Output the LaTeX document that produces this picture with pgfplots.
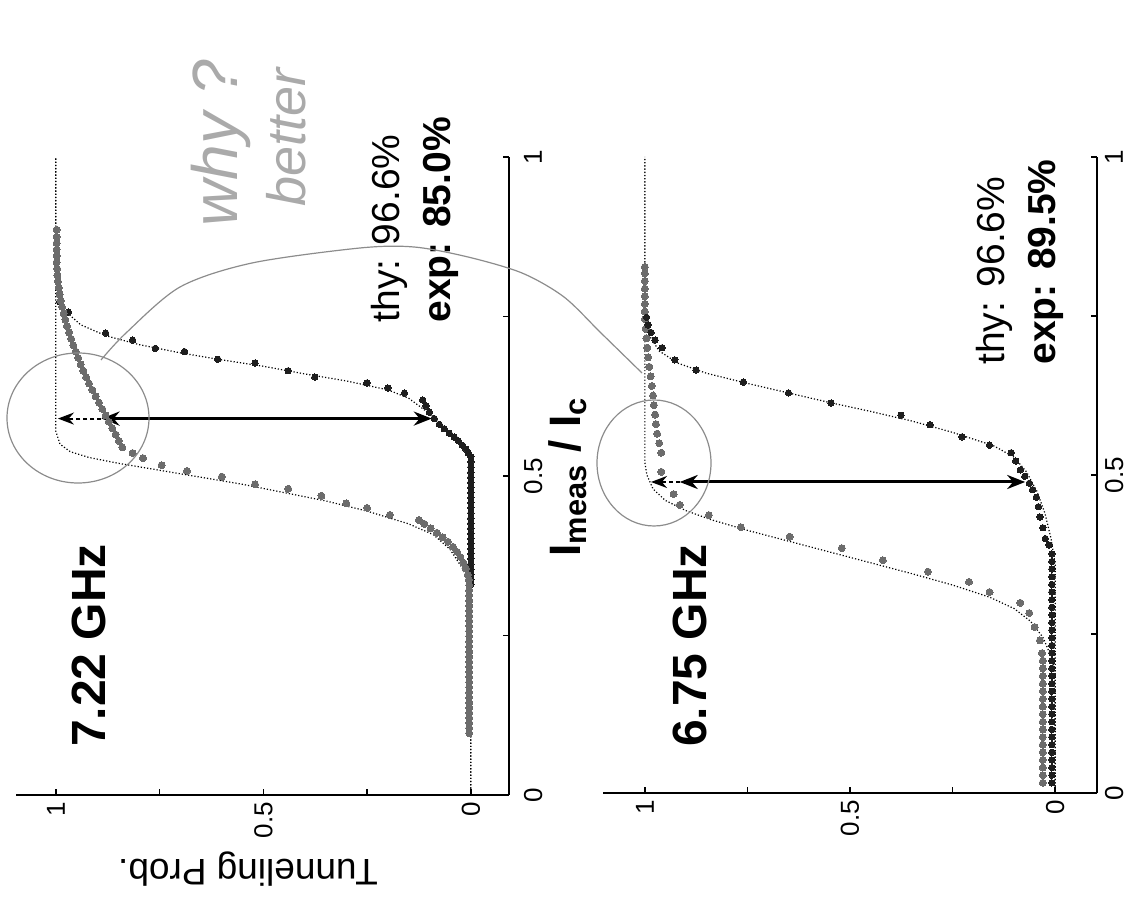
\documentclass[border=0pt]{standalone}
\usepackage{fontspec}
\setmainfont{Liberation Sans}
\usepackage{pgfplots}
\pgfplotsset{compat=1.18}
\usetikzlibrary{arrows.meta}

\definecolor{grdot}{RGB}{108,108,108}
\definecolor{bkdot}{RGB}{30,30,30}
\definecolor{pen}{RGB}{140,140,140}
\definecolor{penlight}{RGB}{170,170,170}

\pgfplotsset{
  tunnel/.style={
    scale only axis,
    x dir=reverse,
    ymin=0, ymax=1,
    axis x line*=bottom,
    axis y line*=right,
    axis line style={line width=1pt, black},
    tick align=inside,
    major tick length=3pt,
    tick style={line width=0.8pt, black},
    xtick={0,0.25,0.5,0.75,1},
    xticklabels={0,,0.5,,1},
    ytick={0,0.25,0.5,0.75,1},
    yticklabels={0,,0.5,,1},
    xticklabel style={rotate=90, anchor=east, font=\fontsize{13}{15}\selectfont},
    yticklabel style={rotate=90, anchor=north, font=\fontsize{13}{15}\selectfont},
    /pgf/number format/assume math mode=true,
    clip=false,
  },
  thy/.style={densely dotted, line width=0.6pt, black},
  gdata/.style={only marks, color=grdot, mark=*, mark size=1.75pt,
    mark options={draw=grdot, fill=grdot, line width=0pt}},
  bdata/.style={only marks, color=bkdot, mark=*, mark size=1.6pt,
    mark options={draw=bkdot, fill=bkdot, line width=0pt}},
}
\tikzset{
  val/.style={rotate=90, anchor=base west, inner sep=0pt, font=\fontsize{19.5}{22}\selectfont},
  freq/.style={rotate=90, anchor=base west, inner sep=0pt, font=\fontsize{24}{28}\selectfont\bfseries},
  meas/.style={line width=1.5pt, {Stealth[length=9pt,width=7pt]}-{Stealth[length=9pt,width=7pt]}},
  ideal/.style={line width=1pt, dash pattern=on 2pt off 1.5pt, -{Stealth[length=8pt,width=6pt]}},
  note/.style={rotate=90, anchor=base west, inner sep=0pt, text=penlight},
}

% 7.22 GHz, lower-current state (grey)
\pgfplotstableread{
p I
0.004 0.097
0.004 0.105
0.004 0.113
0.004 0.121
0.004 0.129
0.004 0.137
0.004 0.145
0.004 0.153
0.004 0.161
0.004 0.169
0.004 0.177
0.004 0.185
0.004 0.193
0.004 0.201
0.004 0.209
0.004 0.217
0.004 0.225
0.004 0.233
0.004 0.241
0.004 0.249
0.004 0.257
0.004 0.265
0.004 0.273
0.004 0.281
0.004 0.289
0.004 0.297
0.004 0.305
0.004 0.313
0.004 0.321
0.004 0.329
0.005 0.337
0.007 0.345
0.012 0.355
0.018 0.364
0.025 0.373
0.033 0.381
0.043 0.389
0.055 0.397
0.068 0.404
0.082 0.411
0.097 0.418
0.112 0.425
0.125 0.431
0.195 0.439
0.25 0.450
0.30 0.457
0.36 0.469
0.44 0.480
0.52 0.487
0.60 0.499
0.684 0.508
0.745 0.517
0.79 0.528
0.815 0.536
0.84 0.545
0.848 0.555
0.856 0.565
0.864 0.575
0.872 0.585
0.880 0.595
0.888 0.605
0.896 0.615
0.904 0.625
0.912 0.635
0.920 0.645
0.927 0.655
0.934 0.665
0.940 0.675
0.946 0.685
0.952 0.695
0.958 0.705
0.963 0.715
0.968 0.725
0.973 0.735
0.977 0.745
0.981 0.755
0.985 0.765
0.988 0.775
0.991 0.785
0.993 0.795
0.995 0.805
0.996 0.815
0.997 0.825
0.998 0.835
0.998 0.845
0.998 0.855
0.998 0.865
0.998 0.875
0.998 0.886
}\gA

% 7.22 GHz, higher-current state (black)
\pgfplotstableread{
p I
0.0 0.330
0.0 0.338
0.0 0.346
0.0 0.354
0.0 0.362
0.0 0.370
0.0 0.378
0.0 0.386
0.0 0.394
0.0 0.402
0.0 0.410
0.0 0.418
0.0 0.426
0.0 0.434
0.0 0.442
0.0 0.450
0.0 0.458
0.0 0.466
0.0 0.474
0.0 0.482
0.0 0.490
0.0 0.498
0.0 0.506
0.0 0.514
0.0 0.522
0.0 0.530
0.006 0.536
0.012 0.542
0.020 0.548
0.030 0.555
0.040 0.561
0.052 0.567
0.064 0.574
0.076 0.581
0.088 0.590
0.100 0.600
0.108 0.610
0.116 0.619
0.16 0.630
0.20 0.638
0.25 0.646
0.376 0.655
0.44 0.665
0.52 0.677
0.61 0.683
0.69 0.695
0.76 0.700
0.815 0.713
0.88 0.724
0.97 0.757
0.99 0.773
}\gB

% 7.22 GHz, theory
\pgfplotstableread{
p I
0 0
0 0.30
0.005 0.33
0.02 0.355
0.05 0.385
0.09 0.408
0.15 0.425
0.25 0.445
0.35 0.461
0.45 0.474
0.55 0.487
0.65 0.498
0.75 0.509
0.85 0.520
0.92 0.529
0.965 0.538
0.99 0.550
1 0.570
1 1
}\gtA
\pgfplotstableread{
p I
0 0
0 0.52
0.01 0.54
0.03 0.555
0.06 0.575
0.10 0.598
0.15 0.622
0.20 0.635
0.30 0.649
0.40 0.660
0.50 0.672
0.60 0.682
0.70 0.693
0.80 0.706
0.88 0.720
0.94 0.737
0.975 0.757
0.993 0.780
1 0.810
1 1
}\gtB

% 6.75 GHz, lower-current state (grey)
\pgfplotstableread{
p I
0.03 0.016
0.03 0.028
0.03 0.040
0.03 0.052
0.03 0.064
0.03 0.076
0.03 0.088
0.03 0.100
0.03 0.112
0.03 0.124
0.03 0.136
0.03 0.148
0.03 0.160
0.03 0.172
0.03 0.184
0.03 0.196
0.03 0.208
0.032 0.220
0.037 0.240
0.05 0.261
0.063 0.283
0.085 0.299
0.16 0.316
0.21 0.332
0.31 0.348
0.42 0.366
0.52 0.385
0.647 0.403
0.766 0.418
0.844 0.437
0.915 0.453
0.93 0.470
0.96 0.505
0.96 0.535
0.965 0.550
0.970 0.565
0.973 0.580
0.975 0.595
0.978 0.610
0.980 0.625
0.983 0.640
0.986 0.655
0.989 0.670
0.992 0.685
0.994 0.700
0.996 0.715
0.998 0.730
1.0 0.745
1.0 0.757
1.0 0.769
1.0 0.781
1.0 0.793
1.0 0.805
1.0 0.817
1.0 0.827
}\hA

% 6.75 GHz, higher-current state (black)
\pgfplotstableread{
p I
0.008 0.016
0.008 0.028
0.008 0.040
0.008 0.052
0.008 0.064
0.008 0.076
0.008 0.088
0.008 0.100
0.008 0.112
0.008 0.124
0.008 0.136
0.008 0.148
0.008 0.160
0.008 0.172
0.008 0.184
0.008 0.196
0.008 0.208
0.008 0.220
0.008 0.232
0.008 0.244
0.008 0.256
0.008 0.268
0.008 0.280
0.008 0.292
0.008 0.304
0.008 0.316
0.008 0.328
0.008 0.340
0.008 0.352
0.008 0.364
0.008 0.376
0.015 0.390
0.024 0.400
0.030 0.417
0.037 0.434
0.041 0.450
0.046 0.465
0.055 0.477
0.063 0.487
0.074 0.498
0.085 0.508
0.096 0.522
0.107 0.535
0.16 0.547
0.227 0.560
0.305 0.579
0.376 0.594
0.546 0.613
0.65 0.629
0.76 0.646
0.875 0.665
0.927 0.681
0.958 0.700
0.975 0.712
0.985 0.724
0.992 0.736
0.996 0.748
}\hB

% 6.75 GHz, theory
\pgfplotstableread{
p I
0 0
0 0.19
0.01 0.215
0.03 0.245
0.06 0.270
0.10 0.290
0.16 0.308
0.25 0.327
0.35 0.345
0.45 0.362
0.55 0.379
0.65 0.396
0.75 0.413
0.84 0.430
0.90 0.444
0.95 0.460
0.98 0.478
0.995 0.500
1 0.520
1 1
}\htA
\pgfplotstableread{
p I
0 0
0 0.36
0.01 0.40
0.025 0.44
0.045 0.475
0.07 0.505
0.10 0.528
0.15 0.546
0.25 0.567
0.35 0.585
0.45 0.600
0.55 0.614
0.65 0.629
0.75 0.644
0.85 0.660
0.92 0.676
0.965 0.695
0.99 0.720
1 0.750
1 1
}\htB

\begin{document}
\begin{tikzpicture}
\useasboundingbox (0,0) rectangle (565pt,452.5pt);

% ---- 7.22 GHz ----
\begin{axis}[tunnel, yticklabel shift=4pt, at={(131.25pt,214.5pt)}, anchor=center,
  width=246.5pt, height=319pt, xmin=-0.092, xmax=1.096]
  \addplot[thy] table[x=p,y=I] {\gtA};
  \addplot[thy] table[x=p,y=I] {\gtB};
  \addplot[bdata] table[x=p,y=I] {\gB};
  \addplot[gdata] table[x=p,y=I] {\gA};
  \draw[meas] (axis cs:0.094,0.59) -- (axis cs:0.89,0.59);
  \draw[ideal] (axis cs:0.89,0.59) -- (axis cs:0.995,0.59);
  \node[freq] at (axis cs:0.88,0.075) {7.22 GHz};
  \node[val] at (axis cs:0.173,0.74) {thy: 96.6\%};
  \node[val] at (axis cs:0.048,0.74) {\bfseries exp: 85.0\%};
\end{axis}

% ---- 6.75 GHz ----
\begin{axis}[tunnel, yticklabel shift=0.5pt, at={(425pt,215pt)}, anchor=center,
  width=247pt, height=318pt, xmin=-0.102, xmax=1.102]
  \addplot[thy] table[x=p,y=I] {\htA};
  \addplot[thy] table[x=p,y=I] {\htB};
  \addplot[gdata] table[x=p,y=I] {\hA};
  \addplot[bdata] table[x=p,y=I] {\hB};
  \draw[meas] (axis cs:0.073,0.489) -- (axis cs:0.915,0.489);
  \draw[ideal] (axis cs:0.915,0.489) -- (axis cs:0.985,0.489);
  \node[freq] at (axis cs:0.849,0.072) {6.75 GHz};
  \node[val] at (axis cs:0.124,0.673) {thy: 96.6\%};
  \node[val] at (axis cs:-0.002,0.673) {\bfseries exp: 89.5\%};
\end{axis}

% shared labels
\node[rotate=180, font=\fontsize{18.5}{22}\selectfont] at (124pt,18pt) {Tunneling Prob.};
\node[rotate=90, anchor=base, inner sep=0pt, font=\fontsize{22}{26}\selectfont\bfseries]
  at (290pt,214pt) {I\textsubscript{meas} / I\textsubscript{c}};

% pen marks
\draw[pen, line width=0.6pt] (39pt,243.5pt) ellipse [x radius=35.5pt, y radius=32.5pt];
\draw[pen, line width=0.6pt] (327pt,221pt) ellipse [x radius=28.5pt, y radius=31.5pt];
\draw[pen, line width=0.6pt] plot[smooth] coordinates {(50.5pt,272.5pt) (63pt,286pt) (90pt,309pt)
  (126pt,321pt) (180pt,328.5pt) (207pt,329pt) (234pt,324pt) (261pt,316pt) (282pt,304pt)
  (300.5pt,286pt) (321pt,266pt)};
\node[note, font=\fontsize{32}{34}\selectfont\itshape] at (118.5pt,339pt) {why ?};
\node[note, font=\fontsize{27}{29}\selectfont\itshape] at (152.5pt,349pt) {better};
\end{tikzpicture}
\end{document}
